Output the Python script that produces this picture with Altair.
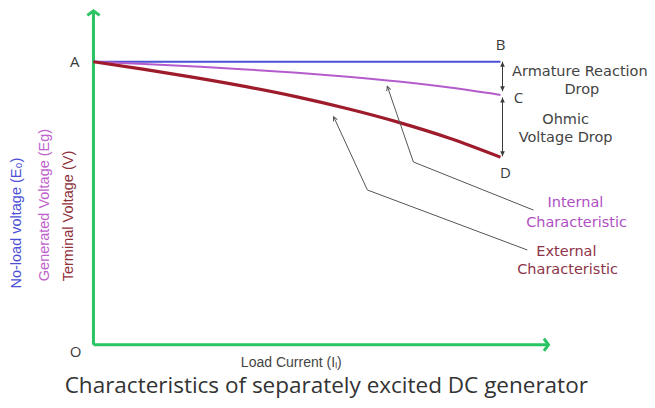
import altair as alt
import pandas as pd

# ---- data (load current in % of rated, voltage in % of no-load) ----
load_current = [0, 12.5, 25, 37.5, 50, 62.5, 75, 87.5, 100]
no_load_v   = [100, 100, 100, 100, 100, 100, 100, 100, 100]
generated_v = [100, 99.2, 98.3, 97.3, 96.1, 94.7, 93.0, 90.9, 88.3]
terminal_v  = [100, 97.3, 94.4, 91.2, 87.6, 83.4, 78.6, 73.0, 66.3]
series_names = ["No-load", "Internal", "External"]
series_colors = ["#4b4fd6", "#b45ccc", "#9e1b2b"]

# annotation anchors (data units)
point_labels = ["A", "B", "C", "D", "O"]
point_lx = [-4.6, 100, 104.4, 101.2, -4.4]
point_ly = [100, 106, 87.2, 60.7, -2.6]

XD = [-21, 136]
YD = [-19.5, 119]
W, H = 639, 392

def X(f="x"):
    return alt.X(f"{f}:Q", scale=alt.Scale(domain=XD, nice=False, zero=False), axis=None)

def Y(f="y"):
    return alt.Y(f"{f}:Q", scale=alt.Scale(domain=YD, nice=False, zero=False), axis=None)

rows = []
for name, vals in zip(series_names, [no_load_v, generated_v, terminal_v]):
    for xv, yv in zip(load_current, vals):
        rows.append({"x": xv, "y": yv, "s": name})
lines_df = pd.DataFrame(rows)

color = alt.Color("s:N", scale=alt.Scale(domain=series_names, range=series_colors), legend=None)

blue = alt.Chart(lines_df[lines_df.s == "No-load"]).mark_line(strokeWidth=2).encode(x=X(), y=Y(), color=color)
purple = alt.Chart(lines_df[lines_df.s == "Internal"]).mark_line(strokeWidth=2, interpolate="monotone").encode(x=X(), y=Y(), color=color)
red = alt.Chart(lines_df[lines_df.s == "External"]).mark_line(strokeWidth=3.2, interpolate="monotone").encode(x=X(), y=Y(), color=color)

# green axes
green = "#2bc463"
axes_df = pd.DataFrame({"x": [0, 0], "y": [0, 0], "x2": [0, 111.6], "y2": [117.6, 0]})
axes = alt.Chart(axes_df).mark_rule(color=green, strokeWidth=3).encode(
    x=X(), y=Y(), x2="x2:Q", y2="y2:Q")
tips_df = pd.DataFrame({"x": [0, 111.8], "y": [118.0, 0], "a": [0, 90]})
tips = alt.Chart(tips_df).mark_point(
    shape="M-1,0.75L0,0L1,0.75", filled=False, color=green, strokeWidth=3, size=150, opacity=1
).encode(x=X(), y=Y(), angle=alt.Angle("a:Q", scale=None))

# dimension arrows
gray = "#3a3a3a"
dim_df = pd.DataFrame({"x": [100.5, 100.5], "y": [100, 87.4], "y2": [89.6, 66.6]})
dim = alt.Chart(dim_df).mark_rule(color=gray, strokeWidth=1).encode(x=X(), y=Y(), y2="y2:Q")
heads_df = pd.DataFrame({"x": [100.5] * 4, "y": [100, 89.6, 87.4, 66.6], "a": [0, 180, 0, 180]})
heads = alt.Chart(heads_df).mark_point(
    shape="M0,0L-0.6,1.3L0.6,1.3Z", filled=True, color=gray, size=60, opacity=1
).encode(x=X(), y=Y(), angle=alt.Angle("a:Q", scale=None))

# leader lines
lead_df = pd.DataFrame({
    "x": [72.2, 78.6, 108.1, 59.0, 67.3, 106.6],
    "y": [91.3, 64.6, 47.6, 80.6, 54.7, 33.5],
    "g": ["i", "i", "i", "e", "e", "e"],
    "o": [0, 1, 2, 0, 1, 2],
})
leads = alt.Chart(lead_df).mark_line(color="#555555", strokeWidth=1).encode(
    x=X(), y=Y(), detail="g:N", order="o:Q")
ltips_df = pd.DataFrame({"x": [72.2, 59.0], "y": [91.3, 80.6], "a": [341, 335]})
ltips = alt.Chart(ltips_df).mark_point(
    shape="M-0.6,1.2L0,0L0.6,1.2", filled=False, color="#555555", strokeWidth=1, size=50, opacity=1
).encode(x=X(), y=Y(), angle=alt.Angle("a:Q", scale=None))

# point letters
pl_df = pd.DataFrame({"t": point_labels, "x": point_lx, "y": point_ly})
letters = alt.Chart(pl_df).mark_text(font="Open Sans", fontSize=15, color="#3a3a3a").encode(
    x=X(), y=Y(), text="t:N")

def label(df, size, col, font="DejaVu Sans", angle=0):
    kw = dict(font=font, fontSize=size, color=col, align="center", baseline="middle")
    if angle:
        kw["angle"] = angle
    return alt.Chart(pd.DataFrame(df)).mark_text(**kw).encode(x=X(), y=Y(), text="t:N")

drops = label({"t": ["Armature Reaction", "Drop", "Ohmic", "Voltage Drop"],
               "x": [119.5, 120.0, 116.0, 116.0], "y": [96.4, 90.0, 79.4, 73.1]}, 14.5, "#444444")
internal_t = label({"t": ["Internal", "Characteristic"], "x": [118.4, 118.7], "y": [50.1, 43.0]}, 14.5, "#b050c4")
external_t = label({"t": ["External", "Characteristic"], "x": [116.2, 116.5], "y": [32.8, 26.4]}, 14.5, "#8e3448")

ylab1 = label({"t": ["No-load voltage (E₀)"], "x": [-18.7], "y": [43.0]}, 14.5, "#4b4fd6", font="Liberation Sans", angle=270)
ylab2 = label({"t": ["Generated Voltage (Eg)"], "x": [-11.8], "y": [49.4]}, 14.5, "#c060cc", font="Liberation Sans", angle=270)
ylab3 = label({"t": ["Terminal Voltage (V)"], "x": [-6.1], "y": [45.5]}, 14.5, "#8e2f3a", font="Liberation Sans", angle=270)

xlab = label({"t": ["Load Current (Iₗ)"], "x": [48.6], "y": [-6.3]}, 14, "#444444", font="Liberation Sans")
title = label({"t": ["Characteristics of separately excited DC generator"], "x": [57.2], "y": [-14.6]},
              22.5, "#333333", font="Open Sans")

chart = alt.layer(
    axes, tips, blue, purple, red, dim, heads, leads, ltips, letters,
    drops, internal_t, external_t, ylab1, ylab2, ylab3, xlab, title
).properties(
    width=W, height=H, padding=0, autosize=alt.AutoSizeParams(type="none"), background="white"
).configure_view(stroke=None)

chart.save("out.html", embed_options={"renderer": "svg", "actions": False})
